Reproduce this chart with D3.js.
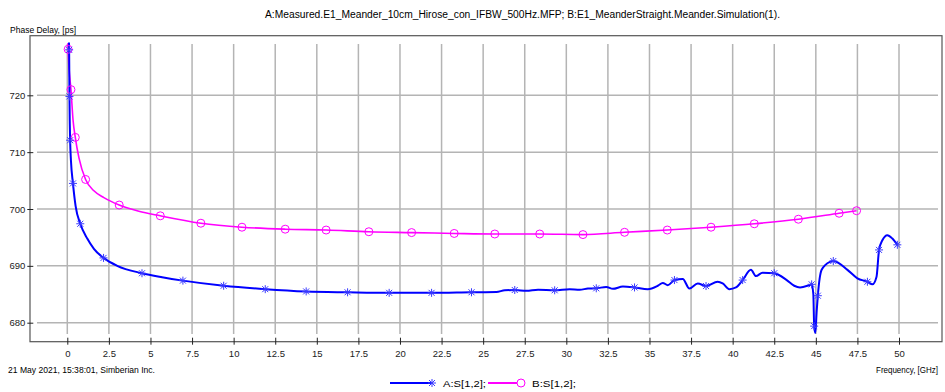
<!DOCTYPE html>
<html>
<head>
<meta charset="utf-8">
<script src="https://cdn.jsdelivr.net/npm/d3@7"></script>
<style>
  html, body { margin: 0; padding: 0; background: #fff; }
  svg { display: block; font-family: "Liberation Sans", Arial, sans-serif; }
</style>
</head>
<body>
<svg id="chart" width="945" height="392"></svg>
<script>
// Phase delay of S[1,2], measured (A) vs simulated (B)
const titleText = "A:Measured.E1_Meander_10cm_Hirose_con_IFBW_500Hz.MFP; B:E1_MeanderStraight.Meander.Simulation(1).";
const yAxisTitle = "Phase Delay, [ps]";
const xAxisTitle = "Frequency, [GHz]";
const footerText = "21 May 2021, 15:38:01, Simberian Inc.";
const seriesNames = ["A:S[1,2];", "B:S[1,2];"];

const xTicks = [0, 2.5, 5, 7.5, 10, 12.5, 15, 17.5, 20, 22.5, 25, 27.5, 30, 32.5, 35, 37.5, 40, 42.5, 45, 47.5, 50];
const yTicks = [680, 690, 700, 710, 720];

// Series A (measured): frequency [GHz], phase delay [ps], marker flag
const aFreq = [0.1, 0.11, 0.12, 0.13, 0.15, 0.17, 0.22, 0.34, 0.5, 0.78, 1.2, 1.6, 2.18, 3.0, 4.49, 5.7, 6.95, 9.4, 11.9, 14.36,
  16.85, 19.35, 21.9, 24.3, 25.8, 26.3, 26.9, 27.6, 28.3, 29.3, 30.2, 30.8, 31.3, 31.8, 32.4, 32.8, 33.4, 34.1, 34.9, 35.5,
  35.8, 36.1, 36.5, 37.0, 37.4, 37.9, 38.4, 39.1, 39.4, 39.8, 40.2, 40.6, 41.1, 41.4, 41.8, 42.5, 43.25, 43.7, 44.05, 44.6,
  44.75, 44.85, 44.9, 44.97, 45.05, 45.12, 45.35, 45.85, 46.05, 46.9, 47.5, 48.1, 48.4, 48.65, 48.8, 49.0, 49.3, 49.6, 49.9];
const aPhase = [729.3, 728.0, 724.0, 719.8, 715.0, 712.1, 708.5, 704.5, 700.5, 697.4, 694.8, 693.0, 691.4, 690.0, 688.7, 688.0, 687.4, 686.5, 685.9, 685.5,
  685.35, 685.25, 685.25, 685.35, 685.4, 685.7, 685.75, 685.6, 685.8, 685.7, 685.9, 685.8, 686.0, 686.05, 686.3, 685.95, 686.35, 686.2, 685.9, 686.5,
  687.0, 686.6, 687.5, 687.7, 686.0, 686.9, 686.45, 687.2, 686.9, 685.9, 686.2, 687.5, 689.3, 688.2, 688.8, 688.7, 687.5, 686.5, 686.2, 686.6,
  686.75, 685.0, 679.4, 678.2, 682.0, 684.75, 689.3, 690.7, 690.85, 689.3, 687.8, 687.2, 686.75, 688.1, 692.8, 694.5, 695.4, 694.8, 693.7];
const aMarked = [0, 1, 0, 1, 0, 1, 0, 1, 0, 1, 0, 0, 1, 0, 1, 0, 1, 1, 1, 1,
  1, 1, 1, 1, 0, 0, 1, 0, 0, 1, 0, 0, 0, 1, 0, 0, 0, 1, 0, 0,
  0, 0, 1, 0, 0, 0, 1, 0, 0, 0, 0, 1, 0, 0, 0, 1, 0, 0, 0, 0,
  1, 0, 1, 0, 0, 1, 0, 0, 1, 0, 0, 1, 0, 0, 1, 0, 0, 0, 1];

// Series B (simulated)
const bFreq = [0.04, 0.05, 0.1, 0.22, 0.35, 0.48, 0.7, 1.1, 1.6, 2.2, 3.12, 4.3, 5.59, 8.03, 10.5, 13.1, 15.56, 18.13, 20.7, 23.26,
  25.7, 28.4, 31.0, 33.5, 36.07, 38.7, 41.3, 43.95, 46.4, 47.45];
const bPhase = [729.2, 728.1, 725.0, 721.0, 715.5, 712.6, 709.0, 705.2, 703.2, 702.0, 700.7, 699.6, 698.8, 697.5, 696.8, 696.45, 696.3, 696.0, 695.85, 695.7,
  695.6, 695.6, 695.5, 695.9, 696.3, 696.8, 697.4, 698.2, 699.25, 699.7];
const bMarked = [0, 1, 0, 1, 0, 1, 0, 1, 0, 0, 1, 0, 1, 1, 1, 1, 1, 1, 1, 1,
  1, 1, 1, 1, 1, 1, 1, 1, 1, 1];

const blue = "#0000ff", blueMark = "#3a3aff";
const magenta = "#ff00ff";

const svg = d3.select("#chart");
const frame = { left: 30, right: 942, top: 35.7, bottom: 341.7 };

const x = d3.scaleLinear().domain([0, 50]).range([67.3, 899]);
const y = d3.scaleLinear().domain([680, 720]).range([322.7, 95.3]);

// header texts
svg.append("text").attr("x", 265).attr("y", 18).attr("font-size", 10)
  .attr("textLength", 515).attr("lengthAdjust", "spacingAndGlyphs").text(titleText);
svg.append("text").attr("x", 10).attr("y", 33).attr("font-size", 9)
  .attr("textLength", 66).attr("lengthAdjust", "spacingAndGlyphs").text(yAxisTitle);

// grid
const grid = svg.append("g").attr("stroke", "#b4b4b4").attr("stroke-width", 1.5);
grid.selectAll("line.v").data(xTicks).join("line").attr("class", "v")
  .attr("x1", d => x(d)).attr("x2", d => x(d)).attr("y1", 44).attr("y2", 334);
grid.selectAll("line.h").data(yTicks).join("line").attr("class", "h")
  .attr("x1", 37).attr("x2", 938).attr("y1", d => y(d)).attr("y2", d => y(d));

// frame
svg.append("rect").attr("x", frame.left).attr("y", frame.top)
  .attr("width", frame.right - frame.left).attr("height", frame.bottom - frame.top)
  .attr("fill", "none").attr("stroke", "#555").attr("stroke-width", 1.2);

// axes
const xAxis = d3.axisBottom(x).tickValues(xTicks).tickSize(7).tickPadding(6)
  .tickFormat(d => String(d));
const gx = svg.append("g").attr("transform", `translate(0,${frame.bottom - 4})`).call(xAxis);
gx.select(".domain").remove();
gx.selectAll("line").attr("stroke", "#222");
gx.selectAll("text").attr("font-size", 9.5).attr("fill", "#222").attr("font-family", "Liberation Sans, Arial");

const yAxis = d3.axisLeft(y).tickValues(yTicks).tickSize(6).tickPadding(2);
const gy = svg.append("g").attr("transform", `translate(${frame.left + 3.3},0)`).call(yAxis);
gy.select(".domain").remove();
gy.selectAll("line").attr("stroke", "#222");
gy.selectAll("text").attr("font-size", 9.5).attr("fill", "#222").attr("font-family", "Liberation Sans, Arial");

// series
const aData = aFreq.map((f, i) => ({ f, v: aPhase[i], m: aMarked[i] }));
const bData = bFreq.map((f, i) => ({ f, v: bPhase[i], m: bMarked[i] }));
const line = d3.line().x(d => x(d.f)).y(d => y(d.v)).curve(d3.curveMonotoneX);

const plot = svg.append("g");
plot.append("path").datum(bData).attr("d", line).attr("fill", "none")
  .attr("stroke", magenta).attr("stroke-width", 1.6);
plot.append("path").datum(aData).attr("d", line).attr("fill", "none")
  .attr("stroke", blue).attr("stroke-width", 2);

function asterisk(g, cx, cy, r, color) {
  const p = `M${cx - r},${cy}H${cx + r}M${cx},${cy - r}V${cy + r}` +
    `M${cx - r * 0.75},${cy - r * 0.75}L${cx + r * 0.75},${cy + r * 0.75}` +
    `M${cx - r * 0.75},${cy + r * 0.75}L${cx + r * 0.75},${cy - r * 0.75}`;
  g.append("path").attr("d", p).attr("stroke", color).attr("stroke-width", 1).attr("fill", "none");
}

const markG = plot.append("g");
bData.filter(d => d.m).forEach(d => {
  markG.append("circle").attr("cx", x(d.f)).attr("cy", y(d.v)).attr("r", 4)
    .attr("fill", "none").attr("stroke", magenta).attr("stroke-width", 1);
});
aData.filter(d => d.m).forEach(d => asterisk(markG, x(d.f), y(d.v), 4, blueMark));

// footer
svg.append("text").attr("x", 8).attr("y", 373).attr("font-size", 9)
  .attr("textLength", 147).attr("lengthAdjust", "spacingAndGlyphs").text(footerText);
svg.append("text").attr("x", 876).attr("y", 373).attr("font-size", 9)
  .attr("textLength", 62).attr("lengthAdjust", "spacingAndGlyphs").text(xAxisTitle);

// legend
const lg = svg.append("g");
lg.append("line").attr("x1", 390).attr("x2", 431).attr("y1", 383).attr("y2", 383)
  .attr("stroke", blue).attr("stroke-width", 2);
asterisk(lg, 432, 383, 4, blueMark);
lg.append("text").attr("x", 443).attr("y", 387).attr("font-size", 9)
  .attr("textLength", 43).attr("lengthAdjust", "spacingAndGlyphs").text(seriesNames[0]);
lg.append("line").attr("x1", 488).attr("x2", 517).attr("y1", 383).attr("y2", 383)
  .attr("stroke", magenta).attr("stroke-width", 2);
lg.append("circle").attr("cx", 521).attr("cy", 383).attr("r", 4)
  .attr("fill", "none").attr("stroke", magenta).attr("stroke-width", 1);
lg.append("text").attr("x", 532).attr("y", 387).attr("font-size", 9)
  .attr("textLength", 44).attr("lengthAdjust", "spacingAndGlyphs").text(seriesNames[1]);
</script>
</body>
</html>
